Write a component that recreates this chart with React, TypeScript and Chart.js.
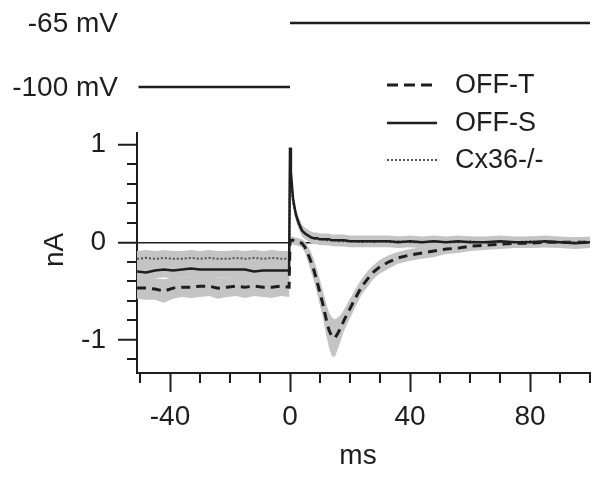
import React, { useEffect, useRef } from 'react';
import { Chart, registerables } from 'chart.js';

Chart.register(...registerables);

// ---- data (ms, nA) ----
const times = [
  -51, -48, -45, -42, -39, -36, -33, -30, -27, -24, -21, -18, -15, -12, -9, -6, -3, -0.3,
  0, 0.3, 1, 1.5, 2, 3, 4, 5, 6, 7, 8, 9, 10, 11, 12, 13, 14, 15, 16, 17, 18,
  20, 22, 24, 26, 28, 30, 33, 36, 40, 44, 48, 52, 56, 60, 65, 70, 75, 80, 85, 90, 95, 100,
];

const offT = [
  -0.47, -0.47, -0.48, -0.5, -0.47, -0.46, -0.46, -0.45, -0.45, -0.47, -0.46, -0.45, -0.46, -0.45, -0.46, -0.46, -0.45, -0.46,
  0.0, 0.02, 0.02, 0.01, 0.01, 0.0, -0.01, -0.05, -0.12, -0.2, -0.29, -0.4, -0.52, -0.64, -0.78, -0.9, -0.97, -0.98, -0.93, -0.87, -0.8,
  -0.68, -0.56, -0.45, -0.37, -0.3, -0.25, -0.2, -0.16, -0.13, -0.11, -0.09, -0.07, -0.06, -0.04, -0.03, -0.02, -0.01, -0.01, 0.0, 0.0, 0.0, 0.0,
];
const offTSem = [
  0.11, 0.12, 0.11, 0.12, 0.11, 0.1, 0.11, 0.11, 0.1, 0.11, 0.1, 0.1, 0.11, 0.1, 0.1, 0.11, 0.1, 0.1,
  0.04, 0.04, 0.04, 0.04, 0.04, 0.04, 0.04, 0.06, 0.08, 0.1, 0.11, 0.12, 0.13, 0.14, 0.16, 0.18, 0.2, 0.19, 0.16, 0.13, 0.11,
  0.1, 0.09, 0.08, 0.08, 0.07, 0.07, 0.07, 0.06, 0.06, 0.06, 0.06, 0.05, 0.05, 0.05, 0.05, 0.05, 0.05, 0.05, 0.05, 0.05, 0.05, 0.05,
];

const offS = [
  -0.3, -0.31, -0.29, -0.28, -0.29, -0.28, -0.27, -0.28, -0.28, -0.28, -0.28, -0.28, -0.28, -0.3, -0.29, -0.29, -0.29, -0.29,
  0.97, 0.72, 0.45, 0.36, 0.28, 0.19, 0.12, 0.09, 0.07, 0.05, 0.04, 0.04, 0.03, 0.03, 0.03, 0.03, 0.02, 0.02, 0.02, 0.02, 0.02,
  0.01, 0.01, 0.01, 0.01, 0.01, 0.01, 0.01, 0.0, 0.01, 0.0, 0.01, 0.0, 0.01, 0.0, 0.0, 0.01, 0.0, 0.0, 0.01, 0.0, -0.01, 0.0,
];
const offSSem = [
  0.08, 0.08, 0.08, 0.08, 0.08, 0.08, 0.08, 0.08, 0.08, 0.08, 0.08, 0.08, 0.08, 0.08, 0.08, 0.08, 0.08, 0.08,
  0.06, 0.06, 0.06, 0.06, 0.06, 0.06, 0.06, 0.06, 0.06, 0.06, 0.06, 0.06, 0.06, 0.06, 0.06, 0.06, 0.06, 0.06, 0.06, 0.06, 0.06,
  0.06, 0.06, 0.06, 0.06, 0.06, 0.06, 0.06, 0.06, 0.06, 0.06, 0.06, 0.06, 0.06, 0.06, 0.06, 0.06, 0.06, 0.06, 0.06, 0.06, 0.06, 0.06,
];

const cx36 = [
  -0.17, -0.16, -0.17, -0.16, -0.17, -0.17, -0.16, -0.17, -0.16, -0.17, -0.17, -0.16, -0.17, -0.16, -0.17, -0.16, -0.17, -0.17,
  0.85, 0.65, 0.42, 0.34, 0.27, 0.18, 0.12, 0.09, 0.07, 0.05, 0.04, 0.03, 0.03, 0.03, 0.02, 0.02, 0.02, 0.02, 0.01, 0.01, 0.01,
  0.01, 0.01, 0.0, 0.01, 0.0, 0.01, 0.0, 0.01, 0.0, 0.0, 0.01, 0.0, 0.0, 0.01, 0.0, 0.0, 0.0, 0.01, 0.0, 0.0, 0.0, 0.0,
];
const cx36Sem = [
  0.08, 0.08, 0.08, 0.08, 0.08, 0.08, 0.08, 0.08, 0.08, 0.08, 0.08, 0.08, 0.08, 0.08, 0.08, 0.08, 0.08, 0.08,
  0.05, 0.05, 0.05, 0.05, 0.05, 0.05, 0.05, 0.05, 0.05, 0.05, 0.05, 0.05, 0.05, 0.05, 0.05, 0.05, 0.05, 0.05, 0.05, 0.05, 0.05,
  0.05, 0.05, 0.05, 0.05, 0.05, 0.05, 0.05, 0.05, 0.05, 0.05, 0.05, 0.05, 0.05, 0.05, 0.05, 0.05, 0.05, 0.05, 0.05, 0.05, 0.05, 0.05,
];

const seriesLabels = ['OFF-T', 'OFF-S', 'Cx36-/-'];
const xMinorTicks = [-50, -30, -20, -10, 10, 20, 30, 50, 60, 70, 90, 100];
const yMinorTicks = [-1.2, -0.8, -0.6, -0.4, -0.2, 0.2, 0.4, 0.6, 0.8];
const holdingSteps = [
  { label: '-65 mV', from: 0, to: 100 },
  { label: '-100 mV', from: -50.5, to: 0 },
];
const xTitle = 'ms';
const yTitle = 'nA';

// ---- style ----
const INK = '#1e1e1e';
const BAND = '#c4c4c4';
const FONT = "'Liberation Sans', Arial, sans-serif";

const pts = (vals: number[]) => times.map((t, i) => ({ x: t, y: vals[i] }));
const shifted = (vals: number[], sem: number[], sign: number) =>
  times.map((t, i) => ({ x: t, y: vals[i] + sign * sem[i] }));

const annotate = {
  id: 'annotate',
  afterDraw(chart: any) {
    const { ctx, chartArea } = chart;
    const x = chart.scales.x;
    const y = chart.scales.y;
    ctx.save();
    ctx.strokeStyle = INK;
    ctx.fillStyle = INK;
    ctx.lineWidth = 2;
    ctx.setLineDash([]);
    // minor ticks
    ctx.beginPath();
    xMinorTicks.forEach((v) => {
      const px = Math.round(x.getPixelForValue(v));
      ctx.moveTo(px, chartArea.bottom);
      ctx.lineTo(px, chartArea.bottom + 10);
    });
    yMinorTicks.forEach((v) => {
      const py = Math.round(y.getPixelForValue(v));
      ctx.moveTo(chartArea.left, py);
      ctx.lineTo(chartArea.left - 10, py);
    });
    ctx.stroke();

    // holding potential command
    ctx.font = `28px ${FONT}`;
    ctx.textAlign = 'right';
    ctx.textBaseline = 'middle';
    const rows = [23, 87];
    holdingSteps.forEach((s, i) => {
      ctx.fillText(s.label, 118, rows[i] + 1);
      ctx.lineWidth = 2.5;
      ctx.beginPath();
      ctx.moveTo(x.getPixelForValue(s.from), rows[i]);
      ctx.lineTo(x.getPixelForValue(s.to), rows[i]);
      ctx.stroke();
    });

    // legend
    ctx.font = `27px ${FONT}`;
    const legendRows = [85, 123, 160];
    const dashes = [[11, 6], [], [2, 2]];
    const widths = [3, 2.5, 2];
    const colors = [INK, INK, '#555'];
    ctx.textAlign = 'left';
    seriesLabels.forEach((lab, i) => {
      ctx.strokeStyle = colors[i];
      ctx.lineWidth = widths[i];
      ctx.setLineDash(dashes[i]);
      ctx.beginPath();
      ctx.moveTo(387, legendRows[i]);
      ctx.lineTo(437, legendRows[i]);
      ctx.stroke();
      ctx.fillStyle = INK;
      ctx.fillText(lab, 455, legendRows[i] + 1);
    });
    ctx.setLineDash([]);

    // axis titles
    ctx.font = `28px ${FONT}`;
    ctx.textAlign = 'center';
    ctx.fillText(xTitle, 358, 456);
    ctx.save();
    ctx.translate(55, 250);
    ctx.rotate(-Math.PI / 2);
    ctx.fillText(yTitle, 0, 0);
    ctx.restore();
    ctx.restore();
  },
};

export default function App() {
  const ref = useRef<HTMLCanvasElement | null>(null);
  useEffect(() => {
    if (!ref.current) return;
    Chart.defaults.font.family = FONT;
    const line = (label: string, vals: number[], dash: number[], width: number, color: string, order: number) => ({
      label,
      data: pts(vals),
      borderColor: color,
      borderWidth: width,
      borderDash: dash,
      pointRadius: 0,
      tension: 0,
      fill: false,
      order,
    });
    const band = (vals: number[], sem: number[], sign: number, fill: any) => ({
      label: 'sem',
      data: shifted(vals, sem, sign),
      borderWidth: 0,
      borderColor: 'transparent',
      backgroundColor: BAND,
      pointRadius: 0,
      tension: 0,
      fill,
      order: 10,
    });
    const chart = new Chart(ref.current, {
      type: 'line',
      data: {
        datasets: [
          band(offT, offTSem, 1, false),
          band(offT, offTSem, -1, '-1'),
          band(offS, offSSem, 1, false),
          band(offS, offSSem, -1, '-1'),
          band(cx36, cx36Sem, 1, false),
          band(cx36, cx36Sem, -1, '-1'),
          line(seriesLabels[0], offT, [9, 6], 3, INK, 3),
          line(seriesLabels[2], cx36, [2, 2], 2, '#555', 2),
          line(seriesLabels[1], offS, [], 2.5, INK, 1),
        ] as any,
      },
      options: {
        responsive: false,
        animation: false,
        events: [],
        layout: { padding: { top: 133, right: 14, left: 0, bottom: 0 } },
        plugins: {
          legend: { display: false },
          tooltip: { enabled: false },
          filler: { drawTime: 'beforeDatasetsDraw' },
        } as any,
        scales: {
          x: {
            type: 'linear',
            min: -51,
            max: 100,
            afterFit: (s: any) => { s.height = 105; },
            ticks: { stepSize: 40, includeBounds: false, padding: 8, color: INK, font: { size: 28 }, maxRotation: 0 },
            grid: { display: true, drawOnChartArea: false, drawTicks: true, tickLength: 19, tickColor: INK, tickWidth: 2 },
            border: { display: true, color: INK, width: 2 },
          },
          y: {
            type: 'linear',
            min: -1.34,
            max: 1.12,
            afterFit: (s: any) => { s.width = 137; },
            ticks: { stepSize: 1, includeBounds: false, padding: 12, color: INK, font: { size: 28 } },
            grid: {
              display: true,
              drawOnChartArea: true,
              drawTicks: true,
              tickLength: 19,
              tickColor: INK,
              tickWidth: 2,
              color: (c: any) => (c.tick && c.tick.value === 0 ? INK : 'transparent'),
              lineWidth: 1.5,
            },
            border: { display: true, color: INK, width: 2 },
          },
        },
      } as any,
      plugins: [annotate],
    });
    return () => chart.destroy();
  }, []);
  return (
    <div style={{ position: 'absolute', left: 0, top: 0, width: 604, height: 478, background: '#fff' }}>
      <canvas ref={ref} width={604} height={478} style={{ display: 'block' }} />
    </div>
  );
}
